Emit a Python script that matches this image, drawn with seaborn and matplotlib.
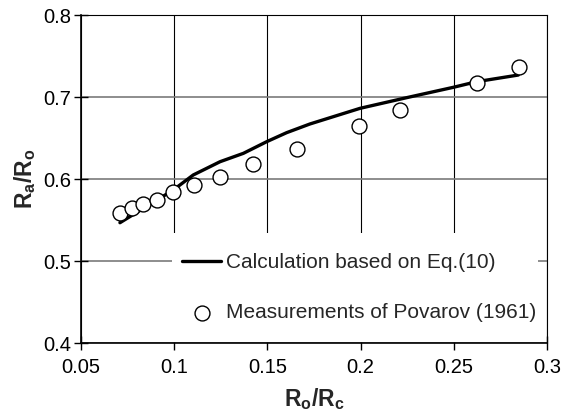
import matplotlib
matplotlib.use("Agg")
import matplotlib.pyplot as plt
import seaborn as sns
from matplotlib.patches import Rectangle

# Calculation based on Eq.(10)
calc_x = [0.0709, 0.0995, 0.1102, 0.1246, 0.1371, 0.1496, 0.1603, 0.1728, 0.1997, 0.2247, 0.2497, 0.2623, 0.2846]
calc_y = [0.5467, 0.5866, 0.6049, 0.6211, 0.6313, 0.6455, 0.6565, 0.6671, 0.6862, 0.6992, 0.7118, 0.7187, 0.7268]

# Measurements of Povarov (1961)
meas_x = [0.0709, 0.0772, 0.0831, 0.0906, 0.0995, 0.1108, 0.1246, 0.1424, 0.166, 0.1993, 0.2211, 0.2623, 0.285]
meas_y = [0.559, 0.565, 0.5695, 0.575, 0.584, 0.593, 0.603, 0.618, 0.637, 0.665, 0.684, 0.717, 0.736]

x_ticks = [0.05, 0.1, 0.15, 0.2, 0.25, 0.3]
x_tick_labels = ["0.05", "0.1", "0.15", "0.2", "0.25", "0.3"]
y_ticks = [0.4, 0.5, 0.6, 0.7, 0.8]
y_tick_labels = ["0.4", "0.5", "0.6", "0.7", "0.8"]

sns.set_style("white")
plt.rcParams["font.family"] = ["Liberation Sans", "DejaVu Sans"]
plt.rcParams["mathtext.fontset"] = "custom"
plt.rcParams["mathtext.rm"] = "Liberation Sans"
plt.rcParams["mathtext.bf"] = "Liberation Sans:bold"

fig = plt.figure(figsize=(5.74, 4.18), dpi=100)
ax = fig.add_axes([0.1411, 0.1794, 0.8119, 0.7847])

sns.lineplot(x=calc_x, y=calc_y, ax=ax, color="black", linewidth=2.4,
             label="Calculation based on Eq.(10)", zorder=3)
sns.scatterplot(x=meas_x, y=meas_y, ax=ax, marker="o", s=115, facecolor="white",
                edgecolor="black", linewidth=1.0, label="Measurements of Povarov (1961)", zorder=4)

ax.set_xlim(0.05, 0.3)
ax.set_ylim(0.4, 0.8)
ax.set_xticks(x_ticks)
ax.set_xticklabels(x_tick_labels)
ax.set_yticks(y_ticks)
ax.set_yticklabels(y_tick_labels)

ax.set_axisbelow(True)
ax.xaxis.grid(True, color="black", linewidth=0.8)
ax.yaxis.grid(True, color="#7a7a7a", linewidth=1.2)

for side in ["left", "bottom"]:
    ax.spines[side].set_color("black")
    ax.spines[side].set_linewidth(1.2)
    ax.spines[side].set_zorder(3)
for side in ["top", "right"]:
    ax.spines[side].set_color("black")
    ax.spines[side].set_linewidth(0.8)

ax.tick_params(axis="both", which="major", direction="inout", length=10, width=1.0,
               colors="black", labelsize=14.5, left=True, bottom=True)
ax.tick_params(axis="x", pad=6)
ax.tick_params(axis="y", pad=2)

ax.set_xlabel(r"$\mathbf{R_o/R_c}$", fontsize=16.5, labelpad=6)
ax.set_ylabel(r"$\mathbf{R_a/R_o}$", fontsize=16.5, labelpad=4)

# white box behind the legend hides the grid
ax.add_patch(Rectangle((0.195, 0.004), 0.786, 0.331, transform=ax.transAxes,
                       facecolor="white", edgecolor="none", zorder=1.5))
ax.legend(loc="lower left", bbox_to_anchor=(0.173, 0.0), frameon=False,
          fontsize=15, handlelength=1.85, handletextpad=0.25, labelspacing=1.5,
          borderaxespad=0.4, borderpad=0.6)

fig.savefig("out.png", dpi=100)
plt.close(fig)
